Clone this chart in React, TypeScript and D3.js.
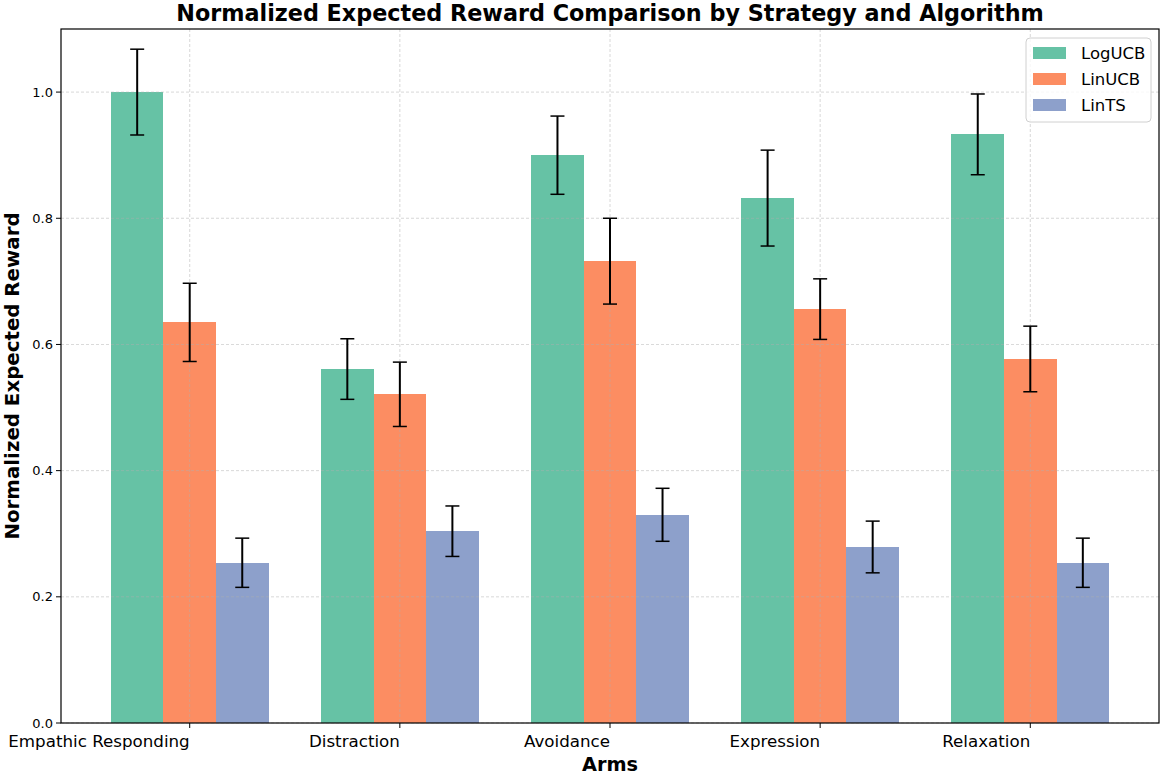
import * as React from 'react'
import * as d3 from 'd3'

const WIDTH = 1164
const HEIGHT = 778
const MARGIN = { top: 29, right: 5, bottom: 55, left: 61 }

const arms = ['Empathic Responding', 'Distraction', 'Avoidance', 'Expression', 'Relaxation']
const algorithms = ['LogUCB', 'LinUCB', 'LinTS']
const colors = ['#66c2a5', '#fc8d62', '#8da0cb']

const logUcbMean = [1.0, 0.561, 0.9, 0.832, 0.933]
const logUcbErr = [0.068, 0.048, 0.062, 0.076, 0.064]
const linUcbMean = [0.635, 0.521, 0.732, 0.656, 0.577]
const linUcbErr = [0.062, 0.051, 0.068, 0.048, 0.052]
const linTsMean = [0.254, 0.304, 0.33, 0.279, 0.254]
const linTsErr = [0.039, 0.04, 0.042, 0.041, 0.039]

const yTicks = [0, 0.2, 0.4, 0.6, 0.8, 1.0]

const means = [logUcbMean, linUcbMean, linTsMean]
const errs = [logUcbErr, linUcbErr, linTsErr]
const BAR_W = 0.25

export default function App() {
  const innerW = WIDTH - MARGIN.left - MARGIN.right
  const innerH = HEIGHT - MARGIN.top - MARGIN.bottom
  // matplotlib-like autoscale: bars span -0.375..4.375 with 5% margin
  const lo = -1.5 * BAR_W
  const hi = arms.length - 1 + 1.5 * BAR_W
  const pad = (hi - lo) * 0.05
  const x = d3.scaleLinear().domain([lo - pad, hi + pad]).range([0, innerW])
  const y = d3.scaleLinear().domain([0, 1.1]).range([innerH, 0])
  const font = 'DejaVu Sans, sans-serif'

  return (
    <div style={{ position: 'absolute', left: 0, top: 0 }}>
      <svg width={WIDTH} height={HEIGHT} style={{ display: 'block', background: '#fff' }}>
        <text x={MARGIN.left + innerW / 2} y={21} textAnchor="middle" fontFamily={font} fontSize={22.3} fontWeight="bold">
          Normalized Expected Reward Comparison by Strategy and Algorithm
        </text>
        <g transform={`translate(${MARGIN.left},${MARGIN.top})`}>
          {algorithms.map((alg, k) => (
            <g key={alg} shapeRendering="crispEdges">
              {arms.map((arm, i) => {
                const cx = i + (k - 1) * BAR_W
                const x0 = Math.round(x(cx - BAR_W / 2))
                const x1 = Math.round(x(cx + BAR_W / 2))
                return (
                  <rect
                    key={arm}
                    x={x0}
                    y={y(means[k][i])}
                    width={x1 - x0}
                    height={innerH - y(means[k][i])}
                    fill={colors[k]}
                  />
                )
              })}
            </g>
          ))}
          {/* grid */}
          {yTicks.map(t => (
            <line key={'gy' + t} x1={0} x2={innerW} y1={y(t)} y2={y(t)} stroke="#b0b0b0" strokeWidth={0.8} strokeDasharray="3,2" opacity={0.6} />
          ))}
          {arms.map((arm, i) => (
            <line key={'gx' + arm} x1={x(i)} x2={x(i)} y1={0} y2={innerH} stroke="#b0b0b0" strokeWidth={0.8} strokeDasharray="3,2" opacity={0.6} />
          ))}
          {/* error bars */}
          {algorithms.map((alg, k) =>
            arms.map((arm, i) => {
              const cx = x(i + (k - 1) * BAR_W)
              const top = y(means[k][i] + errs[k][i])
              const bot = y(means[k][i] - errs[k][i])
              return (
                <g key={alg + arm} stroke="#000" strokeWidth={2}>
                  <line x1={cx} x2={cx} y1={top} y2={bot} />
                  <line x1={cx - 7} x2={cx + 7} y1={top} y2={top} strokeWidth={1.5} />
                  <line x1={cx - 7} x2={cx + 7} y1={bot} y2={bot} strokeWidth={1.5} />
                </g>
              )
            })
          )}
          {/* frame */}
          <rect x={0} y={0} width={innerW} height={innerH} fill="none" stroke="#000" strokeWidth={1.2} />
          {/* y ticks */}
          {yTicks.map(t => (
            <g key={'ty' + t} transform={`translate(0,${y(t)})`}>
              <line x1={-5} x2={0} stroke="#000" strokeWidth={1} />
              <text x={-8} dy="0.35em" textAnchor="end" fontFamily={font} fontSize={13}>
                {t.toFixed(1)}
              </text>
            </g>
          ))}
          {/* x ticks */}
          {arms.map((arm, i) => (
            <g key={'tx' + arm} transform={`translate(${x(i)},${innerH})`}>
              <line y1={0} y2={5} stroke="#000" strokeWidth={1} />
              <text x={0} y={24} textAnchor="end" fontFamily={font} fontSize={16.7}>
                {arm}
              </text>
            </g>
          ))}
          {/* legend */}
          <g transform={`translate(${innerW - 133},9)`}>
            <rect x={0} y={0} width={125} height={84} rx={4} fill="#fff" fillOpacity={0.8} stroke="#d0d0d0" />
            {algorithms.map((alg, k) => (
              <g key={'lg' + alg} transform={`translate(7,${15 + k * 26})`}>
                <rect x={0} y={-6} width={33} height={12} fill={colors[k]} />
                <text x={48} dy="0.35em" fontFamily={font} fontSize={16.5}>
                  {alg}
                </text>
              </g>
            ))}
          </g>
        </g>
        <text x={MARGIN.left + innerW / 2} y={771} textAnchor="middle" fontFamily={font} fontSize={19.3} fontWeight="bold">
          Arms
        </text>
        <text
          transform={`translate(19,${MARGIN.top + innerH / 2}) rotate(-90)`}
          textAnchor="middle"
          fontFamily={font}
          fontSize={19.8}
          fontWeight="bold"
        >
          Normalized Expected Reward
        </text>
      </svg>
    </div>
  )
}
